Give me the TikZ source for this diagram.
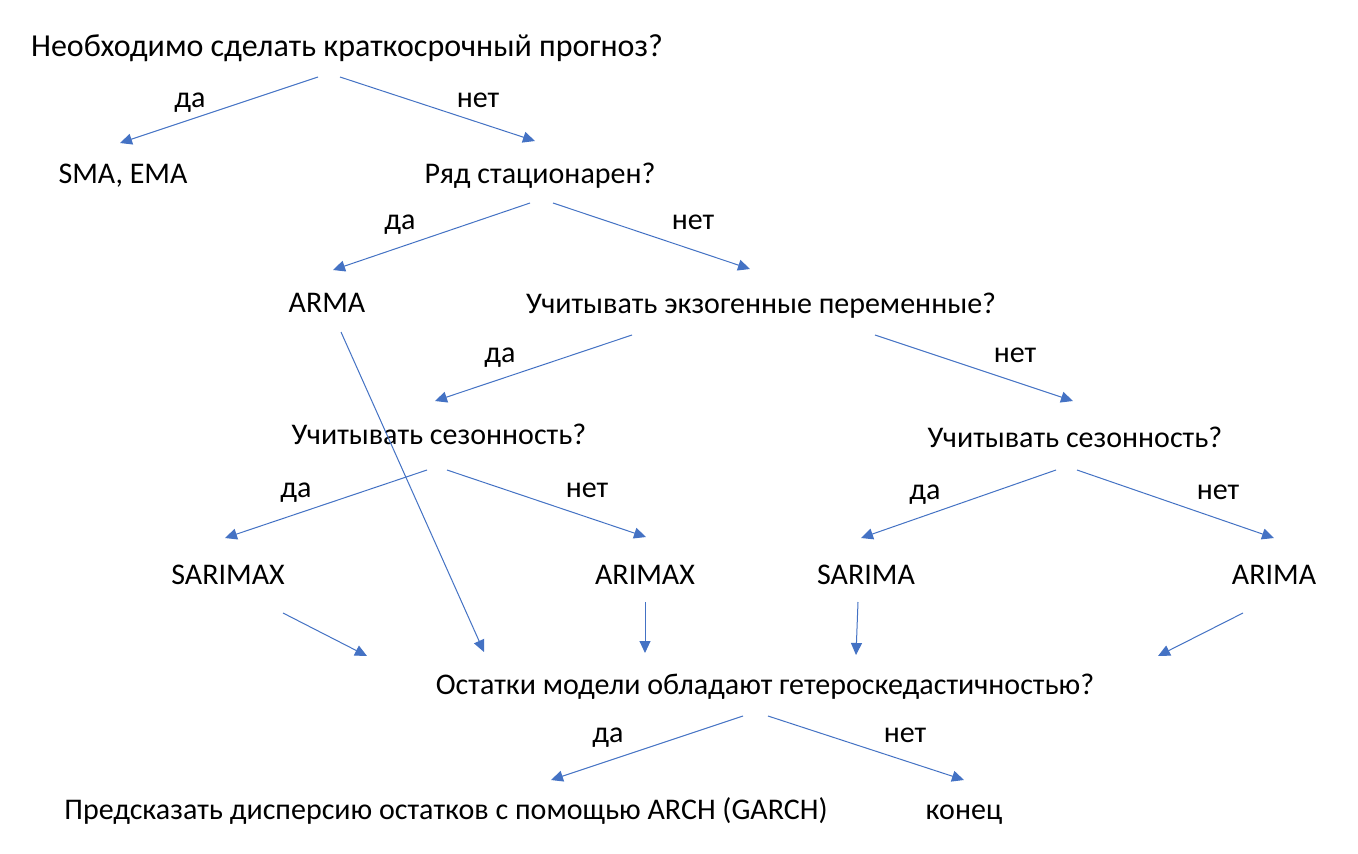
\documentclass[tikz,border=0pt]{standalone}
\usepackage{fontspec}
\setmainfont{Carlito}
\usetikzlibrary{arrows.meta}
\definecolor{arrblue}{HTML}{4472C4}
\tikzset{
  lbl/.style={anchor=base, inner sep=0pt, font=\fontsize{30}{36}\selectfont, text=black},
  toplbl/.style={lbl, font=\fontsize{32}{38}\selectfont},
  arr/.style={draw=arrblue, line width=1pt, -{Triangle[length=12pt,width=11pt]}}
}
\begin{document}
\begin{tikzpicture}[x=1pt,y=-1pt]
\useasboundingbox[fill=white] (0,0) rectangle (1358,854);
% texts
\node[toplbl] (q1) at (347,56) {Необходимо сделать краткосрочный прогноз?};
\node[lbl] (d1) at (190,107) {да};
\node[lbl] (n1) at (478,107) {нет};
\node[lbl] (sma) at (123,183) {SMA, EMA};
\node[lbl] (q2) at (540,183) {Ряд стационарен?};
\node[lbl] (d2) at (400,229) {да};
\node[lbl] (n2) at (693,229) {нет};
\node[lbl] (arma) at (327,312) {ARMA};
\node[lbl] (q3) at (761,313) {Учитывать экзогенные переменные?};
\node[lbl] (d3) at (500,362) {да};
\node[lbl] (n3) at (1015,362) {нет};
\node[lbl] (q4) at (439,444) {Учитывать сезонность?};
\node[lbl] (q5) at (1075,447) {Учитывать сезонность?};
\node[lbl] (d4) at (296,497) {да};
\node[lbl] (n4) at (587,497) {нет};
\node[lbl] (d5) at (925,499) {да};
\node[lbl] (n5) at (1218,499) {нет};
\node[lbl] (sarimax) at (228,584) {SARIMAX};
\node[lbl] (arimax) at (645,584) {ARIMAX};
\node[lbl] (sarima) at (866,584) {SARIMA};
\node[lbl] (arima) at (1274,584) {ARIMA};
\node[lbl] (q6) at (765,694) {Остатки модели обладают гетероскедастичностью?};
\node[lbl] (d6) at (608,742) {да};
\node[lbl] (n6) at (905,742) {нет};
\node[lbl] (garch) at (446,819) {Предсказать дисперсию остатков с помощью ARCH (GARCH)};
\node[lbl] (end) at (964,819) {конец};
% connector end points
\coordinate (a1s) at (318,77);  \coordinate (a1e) at (120,143);
\coordinate (a2s) at (340,77);  \coordinate (a2e) at (535,141);
\coordinate (a3s) at (530,203); \coordinate (a3e) at (333,270);
\coordinate (a4s) at (553,203); \coordinate (a4e) at (750,269);
\coordinate (a5s) at (341,332); \coordinate (a5e) at (484,652);
\coordinate (a6s) at (632,335); \coordinate (a6e) at (435,401);
\coordinate (a7s) at (875,335); \coordinate (a7e) at (1073,401);
\coordinate (a8s) at (427,470); \coordinate (a8e) at (225,538);
\coordinate (a9s) at (447,470); \coordinate (a9e) at (646,537);
\coordinate (a10s) at (1056,470); \coordinate (a10e) at (861,538);
\coordinate (a11s) at (1077,470); \coordinate (a11e) at (1274,538);
\coordinate (a12s) at (283,613); \coordinate (a12e) at (367,656);
\coordinate (a13s) at (645,602); \coordinate (a13e) at (645,653);
\coordinate (a14s) at (858,602); \coordinate (a14e) at (856,655);
\coordinate (a15s) at (1243,613); \coordinate (a15e) at (1158,656);
\coordinate (a16s) at (743,716); \coordinate (a16e) at (551,780);
\coordinate (a17s) at (768,716); \coordinate (a17e) at (964,780);
% connectors
\draw[arr] (a1s) -- (a1e);
\draw[arr] (a2s) -- (a2e);
\draw[arr] (a3s) -- (a3e);
\draw[arr] (a4s) -- (a4e);
\draw[arr] (a5s) -- (a5e);
\draw[arr] (a6s) -- (a6e);
\draw[arr] (a7s) -- (a7e);
\draw[arr] (a8s) -- (a8e);
\draw[arr] (a9s) -- (a9e);
\draw[arr] (a10s) -- (a10e);
\draw[arr] (a11s) -- (a11e);
\draw[arr] (a12s) -- (a12e);
\draw[arr] (a13s) -- (a13e);
\draw[arr] (a14s) -- (a14e);
\draw[arr] (a15s) -- (a15e);
\draw[arr] (a16s) -- (a16e);
\draw[arr] (a17s) -- (a17e);
\end{tikzpicture}
\end{document}
